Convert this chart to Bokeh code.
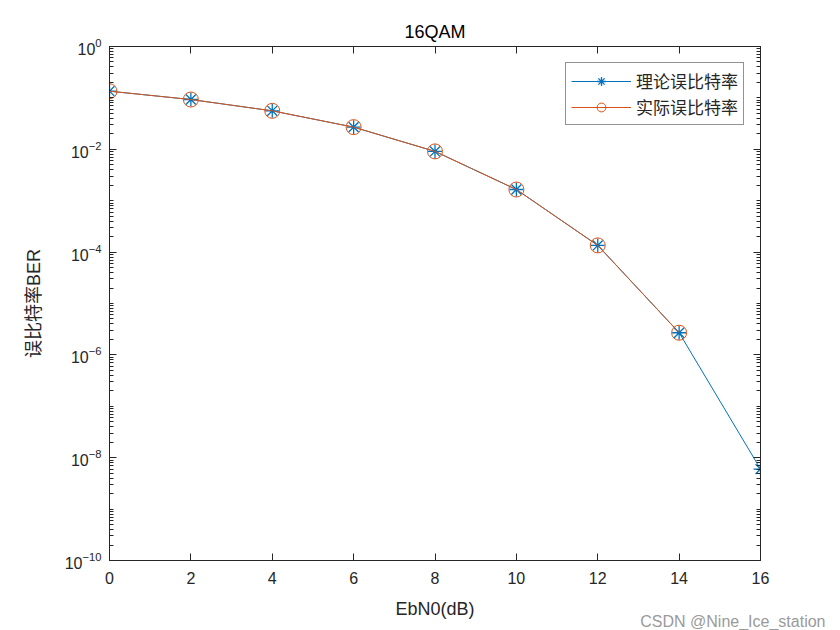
from bokeh.plotting import figure
from bokeh.models import (FixedTicker, LogAxis, LinearAxis, Legend, LegendItem, Title, Range1d)
from bokeh.embed import file_html
from bokeh.resources import INLINE

ebn0 = [0, 2, 4, 6, 8, 10, 12, 14, 16]
ber_theory = [0.135, 0.093, 0.056, 0.027, 0.0091, 1.65e-3, 1.35e-4, 2.7e-6, 6.0e-9]
ebn0_sim = [0, 2, 4, 6, 8, 10, 12, 14]
ber_sim = [0.135, 0.093, 0.056, 0.027, 0.0091, 1.65e-3, 1.35e-4, 2.7e-6]

x_ticks = [0, 2, 4, 6, 8, 10, 12, 14, 16]
y_ticks = [1e-10, 1e-8, 1e-6, 1e-4, 1e-2, 1e0]
y_minor = [m * 10.0 ** k for k in range(-10, 0) for m in range(1, 10)]

BLUE = "#0072BD"
ORANGE = "#D95319"
FONT = "'Liberation Sans', 'Noto Sans CJK SC'"

p = figure(width=840, height=630, y_axis_type="log", output_backend="svg",
           toolbar_location=None, x_range=Range1d(0, 16), y_range=Range1d(1e-10, 1),
           min_border_left=109, min_border_right=80, min_border_top=46, min_border_bottom=70)
p.title.text = "16QAM"
p.title.align = "center"
p.title.text_font = FONT
p.title.text_font_size = "18px"
p.title.text_font_style = "normal"
p.title.text_color = "#000000"
p.grid.visible = False
p.outline_line_color = "#262626"
p.outline_line_width = 1
p.background_fill_color = "white"
p.border_fill_color = "white"

xt = FixedTicker(ticks=x_ticks, minor_ticks=[])
yt = FixedTicker(ticks=y_ticks, minor_ticks=y_minor)

def style(ax):
    ax.major_tick_in = 7
    ax.major_tick_out = 0
    ax.minor_tick_in = 4
    ax.minor_tick_out = 0
    ax.axis_line_color = "#262626"
    ax.major_tick_line_color = "#262626"
    ax.minor_tick_line_color = "#262626"
    ax.major_label_text_font = FONT
    ax.major_label_text_font_size = "16px"
    ax.major_label_text_color = "#262626"
    ax.axis_label_text_font = FONT
    ax.axis_label_text_font_size = "18px"
    ax.axis_label_text_font_style = "normal"
    ax.axis_label_text_color = "#262626"

xa = p.xaxis[0]
xa.ticker = xt
style(xa)
xa.major_label_standoff = 11
xa.axis_label = "EbN0(dB)"
xa.axis_label_standoff = 12

ya = p.yaxis[0]
ya.ticker = yt
style(ya)
ya.major_label_standoff = 8
ya.axis_label = "误比特率BER"
ya.axis_label_standoff = 18

top = LinearAxis(ticker=xt)
style(top)
top.major_label_text_alpha = 0
top.major_label_text_font_size = "1px"
top.major_label_standoff = 0
p.add_layout(top, "above")

right = LogAxis(ticker=yt)
style(right)
right.major_label_text_alpha = 0
right.major_label_text_font_size = "1px"
right.major_label_standoff = 0
p.add_layout(right, "right")

l1 = p.line(ebn0, ber_theory, line_color=BLUE, line_width=1)
s1 = p.scatter(ebn0, ber_theory, marker="asterisk", size=14, line_color=BLUE, line_width=1.3)
l2 = p.line(ebn0_sim, ber_sim, line_color=ORANGE, line_width=1)
s2 = p.scatter(ebn0_sim, ber_sim, marker="circle", size=15, line_color=ORANGE,
               fill_color=None, line_width=1)

legend = Legend(items=[LegendItem(label="理论误比特率", renderers=[l1, s1]),
                       LegendItem(label="实际误比特率", renderers=[l2, s2])],
                location="top_right")
legend.label_text_font = "Noto Sans CJK SC"
legend.label_text_font_size = "17px"
legend.label_text_color = "#262626"
legend.border_line_color = "#262626"
legend.border_line_width = 1
legend.glyph_width = 60
legend.glyph_height = 22
legend.label_height = 22
legend.spacing = 1
legend.padding = 5
legend.margin = 16
legend.label_standoff = 5
legend.background_fill_alpha = 1
p.add_layout(legend)

wm = Title(text="CSDN @Nine_Ice_station", align="right", vertical_align="middle",
           text_font=FONT, text_font_size="16px", text_color="#9a9a9a",
           text_font_style="normal", standoff=-44, offset=-65)
p.add_layout(wm, "below")

open("out.html", "w").write(file_html(p, INLINE))
